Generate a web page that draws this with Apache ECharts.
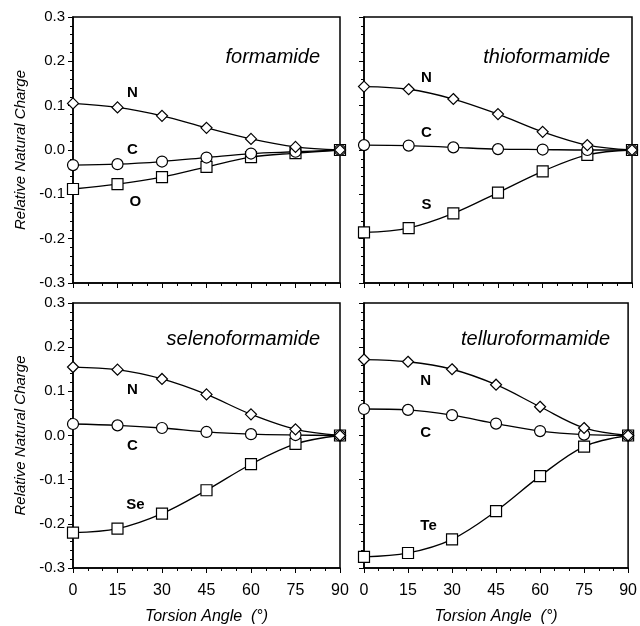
<!DOCTYPE html>
<html><head><meta charset="utf-8">
<script src="https://cdn.jsdelivr.net/npm/echarts@6/dist/echarts.min.js"></script>
<style>html,body{margin:0;padding:0;background:#fff}#c{width:640px;height:626px}</style>
</head><body><div id="c"></div>
<script>
const angles = [0, 15, 30, 45, 60, 75, 90];
const xTicks = [0, 15, 30, 45, 60, 75, 90];
const yTicks = [-0.3, -0.2, -0.1, 0.0, 0.1, 0.2, 0.3];

const formN = [0.105, 0.096, 0.077, 0.050, 0.025, 0.007, 0];
const formC = [-0.034, -0.032, -0.026, -0.017, -0.008, -0.004, 0];
const formO = [-0.088, -0.077, -0.061, -0.038, -0.016, -0.007, 0];

const thioN = [0.143, 0.137, 0.115, 0.081, 0.041, 0.011, 0];
const thioC = [0.011, 0.010, 0.006, 0.002, 0.001, 0.000, 0];
const thioS = [-0.186, -0.176, -0.143, -0.096, -0.048, -0.011, 0];

const selN = [0.155, 0.149, 0.128, 0.093, 0.048, 0.014, 0];
const selC = [0.026, 0.023, 0.017, 0.008, 0.003, 0.001, 0];
const selSe = [-0.220, -0.211, -0.177, -0.124, -0.065, -0.019, 0];

const telN = [0.172, 0.167, 0.150, 0.115, 0.065, 0.017, 0];
const telC = [0.060, 0.058, 0.046, 0.027, 0.010, 0.002, 0];
const telTe = [-0.275, -0.266, -0.235, -0.171, -0.092, -0.025, 0];

const panelTitles = ['formamide', 'thioformamide', 'selenoformamide', 'telluroformamide'];
const seriesNames = [['N', 'C', 'O'], ['N', 'C', 'S'], ['N', 'C', 'Se'], ['N', 'C', 'Te']];
const panelData = [[formN, formC, formO], [thioN, thioC, thioS], [selN, selC, selSe], [telN, telC, telTe]];
// label anchor positions in data coordinates [angle, charge]
const labelPos = [
  [[20, 0.129], [20, 0.0], [21, -0.117]],
  [[21, 0.162], [21, 0.038], [21, -0.124]],
  [[20, 0.104], [20, -0.024], [21, -0.156]],
  [[21, 0.123], [21, 0.006], [22, -0.205]]
];
const symbols = ['diamond', 'circle', 'rect'];

const FONT = 'Liberation Sans, Arial, sans-serif';
const grids = [
  {left: 73, top: 17, width: 267, height: 266},
  {left: 364, top: 17, width: 268, height: 266},
  {left: 73, top: 303, width: 267, height: 265},
  {left: 364, top: 303, width: 268, height: 265}
];

const option = {
  animation: false,
  backgroundColor: '#fff',
  grid: grids.map(g => Object.assign({show: true, borderColor: '#000', borderWidth: 1.5, backgroundColor: 'transparent'}, g)),
  xAxis: grids.map((g, i) => ({
    type: 'value', gridIndex: i, min: 0, max: 90, interval: 15,
    axisLine: {show: true, onZero: false, lineStyle: {color: '#000', width: 1.5}},
    axisTick: {show: true, length: 5, lineStyle: {color: '#000', width: 1}},
    minorTick: {show: true, splitNumber: 3, length: 3, lineStyle: {color: '#000', width: 1}},
    splitLine: {show: false},
    axisLabel: {show: i >= 2, color: '#000', fontSize: 16, fontFamily: FONT, margin: 15,
      formatter: v => xTicks.includes(v) ? String(v) : ''},
    name: i >= 2 ? 'Torsion Angle  (°)' : '',
    nameLocation: 'middle', nameGap: 41,
    nameTextStyle: {color: '#000', fontSize: 16, fontStyle: 'italic', fontFamily: FONT}
  })),
  yAxis: grids.map((g, i) => ({
    type: 'value', gridIndex: i, min: -0.3, max: 0.3, interval: 0.1,
    axisLine: {show: true, onZero: false, lineStyle: {color: '#000', width: 1.5}},
    axisTick: {show: true, length: 5, lineStyle: {color: '#000', width: 1}},
    minorTick: {show: true, splitNumber: 5, length: 3, lineStyle: {color: '#000', width: 1}},
    splitLine: {show: false},
    axisLabel: {show: i % 2 === 0, color: '#000', fontSize: 15, fontFamily: FONT, margin: 8,
      formatter: v => (Math.abs(v) < 1e-9 ? 0 : v).toFixed(1)},
    name: i % 2 === 0 ? 'Relative Natural Charge' : '',
    nameLocation: 'middle', nameGap: 45,
    nameTextStyle: {color: '#000', fontSize: 15, fontStyle: 'italic', fontFamily: FONT}
  })),
  title: panelTitles.map((t, i) => ({
    text: t,
    right: i % 2 === 0 ? 315 : 25,
    top: i < 2 ? 42 : 324,
    textStyle: {color: '#000', fontSize: 20, fontStyle: 'italic', fontWeight: 'normal', fontFamily: FONT}
  })),
  series: []
};

panelData.forEach((arrs, p) => {
  arrs.forEach((vals, s) => {
    option.series.push({
      type: 'line', xAxisIndex: p, yAxisIndex: p,
      data: angles.map((a, k) => [a, vals[k]]),
      smooth: 0.35,
      symbol: symbols[s], symbolSize: 11,
      showAllSymbol: true,
      lineStyle: {color: '#000', width: 1.3},
      itemStyle: {color: '#fff', borderColor: '#000', borderWidth: 1.2},
      z: 3 - s,
      markPoint: {
        symbol: 'circle', symbolSize: 0,
        label: {show: true, position: 'inside', color: '#000', fontSize: 15, fontWeight: 'bold', fontFamily: FONT,
          formatter: seriesNames[p][s]},
        data: [{coord: labelPos[p][s], value: seriesNames[p][s]}]
      }
    });
  });
});

const chart = echarts.init(document.getElementById('c'), null, {renderer: 'canvas'});
chart.setOption(option);
</script>
</body></html>
